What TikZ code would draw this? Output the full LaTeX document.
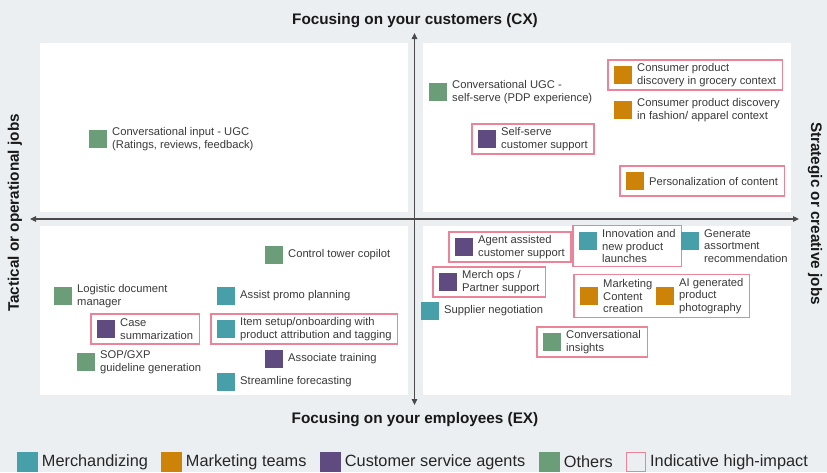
\documentclass[tikz,border=0pt]{standalone}
\usepackage{fontspec}
\setmainfont{Liberation Sans}
\usepackage{xcolor}
\usepackage{tikz}
\usetikzlibrary{arrows.meta, positioning, fit}

\definecolor{merchC}{HTML}{479FA9}
\definecolor{mktC}{HTML}{CD8208}
\definecolor{csaC}{HTML}{5F4B7F}
\definecolor{otherC}{HTML}{6A9D78}
\definecolor{hiC}{HTML}{EC8499}
\definecolor{bgC}{HTML}{ECEFF2}
\definecolor{inkC}{HTML}{3A3A3A}
\definecolor{axisC}{HTML}{4A4A4A}

\begin{document}
\begin{tikzpicture}[x=1pt, y=-1pt, >={Triangle[length=6pt,width=5.5pt]},
    sq/.style={fill=#1, minimum size=18pt, inner sep=0pt, outer xsep=0pt, outer ysep=3pt},
    txt/.style={align=left, inner sep=0pt, text=inkC, font=\fontsize{11.2}{12.8}\selectfont},
    hibox/.style={draw=hiC, line width=1.2pt, inner xsep=6pt, inner ysep=3pt},
    title/.style={font=\bfseries\fontsize{15.3}{18}\selectfont, text=black!90, inner sep=0pt},
    lgsq/.style={fill=#1, minimum size=20.5pt, inner sep=0pt, outer sep=0pt},
    lgtx/.style={inner sep=0pt, text=black!85, font=\fontsize{16.3}{19}\selectfont}]

    % === TŁO I ĆWIARTKI ===
    \fill[bgC] (0,0) rectangle (827,472);
    \useasboundingbox (0,0) rectangle (827,472);
    \fill[white] (40,43) rectangle (408,212);
    \fill[white] (423,43) rectangle (791,212);
    \fill[white] (40,226) rectangle (408,395);
    \fill[white] (423,226) rectangle (791,395);

    % === OSIE ===
    \coordinate (yTop) at (414.5,33);
    \coordinate (yBot) at (414.5,405);
    \coordinate (xLeft) at (30,219);
    \coordinate (xRight) at (799,219);
    \draw[<->, axisC, line width=1.1pt] (yBot) -- (yTop);
    \draw[<->, axisC, line width=1.1pt] (xLeft) -- (xRight);

    \node[title, anchor=base] (cxTitle) at (415,24) {Focusing on your customers (CX)};
    \node[title, anchor=base] (exTitle) at (415,423) {Focusing on your employees (EX)};
    \node[title, rotate=90] (tacTitle) at (15,213) {Tactical or operational jobs};
    \node[title, rotate=-90] (strTitle) at (815,213.5) {Strategic or creative jobs};

    % === 1. CX / TAKTYCZNE ===
    \node[sq=otherC] (sqInput) at (98,139) {};
    \node[txt, right=5pt of sqInput] (txInput) {Conversational input - UGC\\(Ratings, reviews, feedback)};

    % === 2. CX / STRATEGICZNE ===
    \node[sq=otherC] (sqUgc) at (438,92) {};
    \node[txt, right=5pt of sqUgc] (txUgc) {Conversational UGC -\\self-serve (PDP experience)};

    \node[sq=mktC] (sqGrocery) at (623,75) {};
    \node[txt, right=5pt of sqGrocery] (txGrocery) {Consumer product\\discovery in grocery context};
    \node[hibox, fit=(sqGrocery)(txGrocery)] (hiGrocery) {};

    \node[sq=mktC] (sqFashion) at (623,110) {};
    \node[txt, right=5pt of sqFashion] (txFashion) {Consumer product discovery\\in fashion/ apparel context};

    \node[sq=csaC] (sqSelf) at (487,139) {};
    \node[txt, right=5pt of sqSelf] (txSelf) {Self-serve\\customer support};
    \node[hibox, fit=(sqSelf)(txSelf)] (hiSelf) {};

    \node[sq=mktC] (sqPers) at (635,181) {};
    \node[txt, right=5pt of sqPers] (txPers) {Personalization of content};
    \node[hibox, fit=(sqPers)(txPers)] (hiPers) {};

    % === 3. EX / TAKTYCZNE ===
    \node[sq=otherC] (sqTower) at (274,255) {};
    \node[txt, right=5pt of sqTower] (txTower) {Control tower copilot};

    \node[sq=otherC] (sqLogistic) at (63,296) {};
    \node[txt, right=5pt of sqLogistic] (txLogistic) {Logistic document\\manager};

    \node[sq=merchC] (sqPromo) at (226,296) {};
    \node[txt, right=5pt of sqPromo] (txPromo) {Assist promo planning};

    \node[sq=csaC] (sqCase) at (106,329) {};
    \node[txt, right=5pt of sqCase] (txCase) {Case\\summarization};
    \node[hibox, fit=(sqCase)(txCase)] (hiCase) {};

    \node[sq=merchC] (sqSetup) at (226,329) {};
    \node[txt, right=5pt of sqSetup] (txSetup) {Item setup/onboarding with\\product attribution and tagging};
    \node[hibox, fit=(sqSetup)(txSetup)] (hiSetup) {};

    \node[sq=otherC] (sqSop) at (86,362) {};
    \node[txt, right=5pt of sqSop] (txSop) {SOP/GXP\\guideline generation};

    \node[sq=csaC] (sqTraining) at (274,359) {};
    \node[txt, right=5pt of sqTraining] (txTraining) {Associate training};

    \node[sq=merchC] (sqForecast) at (226,382) {};
    \node[txt, right=5pt of sqForecast] (txForecast) {Streamline forecasting};

    % === 4. EX / STRATEGICZNE ===
    \node[sq=csaC] (sqAgent) at (464,247) {};
    \node[txt, right=5pt of sqAgent] (txAgent) {Agent assisted\\customer support};
    \node[hibox, fit=(sqAgent)(txAgent)] (hiAgent) {};

    \node[sq=merchC] (sqInnov) at (588,241) {};
    \node[txt, right=5pt of sqInnov, yshift=-5pt] (txInnov) {Innovation and\\new product\\launches};
    \node[hibox, fit=(sqInnov)(txInnov)] (hiInnov) {};

    \node[sq=merchC] (sqAssort) at (690,241) {};
    \node[txt, right=5pt of sqAssort, yshift=-5pt] (txAssort) {Generate\\assortment\\recommendation};

    \node[sq=csaC] (sqMerchOps) at (448,282) {};
    \node[txt, right=5pt of sqMerchOps] (txMerchOps) {Merch ops /\\Partner support};
    \node[hibox, fit=(sqMerchOps)(txMerchOps)] (hiMerchOps) {};

    \node[sq=mktC] (sqContent) at (589,296) {};
    \node[txt, right=5pt of sqContent] (txContent) {Marketing\\Content\\creation};
    \node[sq=mktC] (sqPhoto) at (665,296) {};
    \node[txt, right=5pt of sqPhoto] (txPhoto) {AI generated\\product\\photography};
    \node[hibox, fit=(sqContent)(txContent)(sqPhoto)(txPhoto)] (hiMarketing) {};

    \node[sq=merchC] (sqSupplier) at (430,311) {};
    \node[txt, right=5pt of sqSupplier] (txSupplier) {Supplier negotiation};

    \node[sq=otherC] (sqInsights) at (552,342) {};
    \node[txt, right=5pt of sqInsights] (txInsights) {Conversational\\insights};
    \node[hibox, fit=(sqInsights)(txInsights)] (hiInsights) {};

    % === 5. LEGENDA ===
    \node[lgsq=merchC] (lgMerch) at (27.5,462) {};
    \node[lgtx, right=4pt of lgMerch] (ltMerch) {Merchandizing};
    \node[lgsq=mktC] (lgMkt) at (171.5,462) {};
    \node[lgtx, right=4pt of lgMkt] (ltMkt) {Marketing teams};
    \node[lgsq=csaC] (lgCsa) at (330.5,462) {};
    \node[lgtx, right=4pt of lgCsa] (ltCsa) {Customer service agents};
    \node[lgsq=otherC] (lgOther) at (549.5,462) {};
    \node[lgtx, right=4pt of lgOther] (ltOther) {Others};
    \node[draw=hiC, line width=1.2pt, minimum size=19pt, inner sep=0pt, outer sep=0pt] (lgHi) at (636,462) {};
    \node[lgtx, right=4.5pt of lgHi] (ltHi) {Indicative high-impact};

\end{tikzpicture}
\end{document}
